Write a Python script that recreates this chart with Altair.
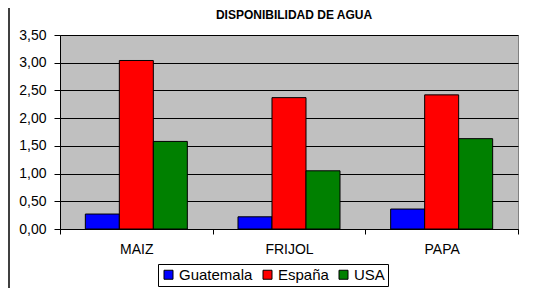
import altair as alt
import pandas as pd

categories = ["MAIZ", "FRIJOL", "PAPA"]
series = ["Guatemala", "España", "USA"]
guatemala = [0.27, 0.22, 0.36]
espana = [3.04, 2.37, 2.42]
usa = [1.58, 1.05, 1.63]
colors = ["#0000FF", "#FF0000", "#008000"]
title_text = "DISPONIBILIDAD DE AGUA"

rows = []
for i, c in enumerate(categories):
    for s, vals in zip(series, [guatemala, espana, usa]):
        rows.append({"cultivo": c, "pais": s, "valor": vals[i]})
df = pd.DataFrame(rows)

FONT = "Liberation Sans"

bars = alt.Chart(df).mark_bar(stroke="black", strokeWidth=1, opacity=1).encode(
    x=alt.X("cultivo:N", sort=categories,
            scale=alt.Scale(paddingInner=0, paddingOuter=0),
            axis=alt.Axis(title=None, labelAngle=0, tickBand="extent", labelFont=FONT,
                          labelFontSize=14, labelColor="black", domainColor="black",
                          tickColor="black", tickSize=5, labelPadding=8)),
    xOffset=alt.XOffset("pais:N", sort=series,
                        scale=alt.Scale(paddingInner=0, paddingOuter=0.745)),
    y=alt.Y("valor:Q", scale=alt.Scale(domain=[0, 3.5]),
            axis=alt.Axis(title=None, values=[0, 0.5, 1, 1.5, 2, 2.5, 3, 3.5],
                          labelExpr="replace(format(datum.value, '.2f'), '.', ',')",
                          labelFont=FONT, labelFontSize=14, labelColor="black",
                          gridColor="black", gridWidth=1, gridOpacity=1,
                          domainColor="black", tickColor="black", tickSize=6,
                          labelPadding=8)),
    color=alt.Color("pais:N", sort=series,
                    scale=alt.Scale(domain=series, range=colors),
                    legend=alt.Legend(title=None, orient="none", legendX=98, legendY=229,
                                      direction="horizontal", symbolType="square",
                                      symbolSize=81, symbolStrokeColor="black",
                                      symbolStrokeWidth=1, symbolOpacity=1,
                                      labelFont=FONT, labelFontSize=15, labelColor="black",
                                      labelOffset=3, columnPadding=7,
                                      strokeColor="black", padding=3, fillColor="white")),
)

title_df = pd.DataFrame({"t": [title_text]})
title = alt.Chart(title_df).mark_text(font=FONT, fontSize=12, fontWeight="bold",
                                      baseline="alphabetic", align="center",
                                      color="black").encode(
    text="t:N", x=alt.value(234), y=alt.value(-16))

border = alt.Chart(title_df).mark_rule(color="#404040", strokeWidth=2).encode(
    x=alt.value(-51), y=alt.value(-30), y2=alt.value(260))

chart = alt.layer(bars, title, border).properties(
    width=458, height=194,
    autosize=alt.AutoSizeParams(type="none"),
    padding={"left": 52, "top": 27, "right": 34, "bottom": 59},
    background="white",
).configure_view(
    fill="#C0C0C0", stroke="#808080", strokeWidth=1
).configure_legend(
    strokeColor="black", strokeWidth=1, fillColor="white", padding=3
)

chart.save("out.html", embed_options={"renderer": "svg", "actions": False})
